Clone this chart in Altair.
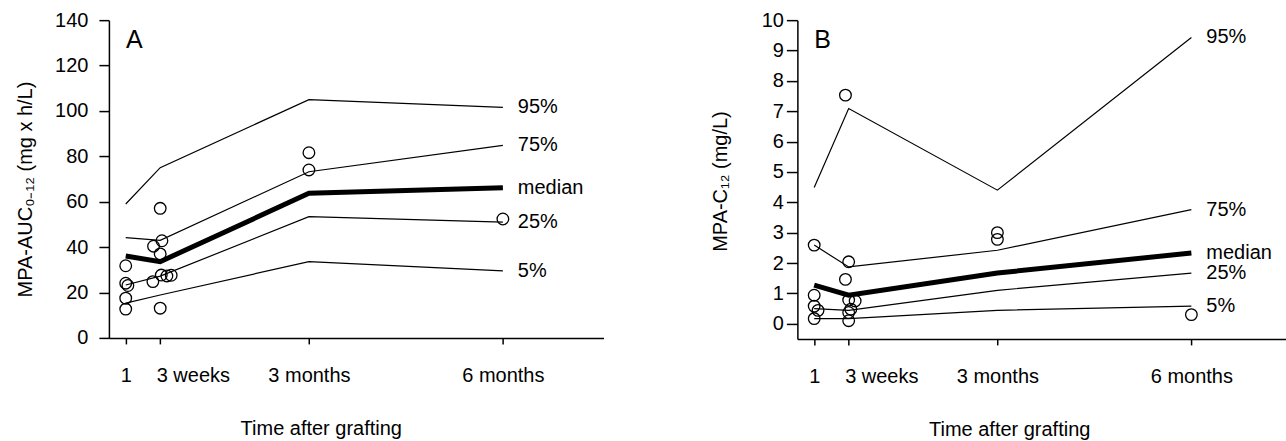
import altair as alt
import pandas as pd

# ---------------- data ----------------
time_days = [5, 21, 90, 180]
time_labels = ["1", "3 weeks", "3 months", "6 months"]
series_names = ["95%", "75%", "median", "25%", "5%"]

# Panel A: MPA-AUC0-12 percentile lines
a_p95 = [59.0, 75.0, 105.0, 101.6]
a_p75 = [44.2, 43.0, 73.2, 84.8]
a_med = [36.1, 33.6, 63.7, 66.2]
a_p25 = [23.3, 27.2, 53.4, 51.0]
a_p5 = [15.3, 18.9, 33.6, 29.5]
# Panel A observed points
a_pt_day = [5, 5, 6, 5, 5, 21, 21.8, 17.9, 21, 17.6, 21.5, 24.1, 26.1, 21, 90, 90, 180]
a_pt_val = [31.8, 24.1, 23.1, 17.5, 12.7, 57.1, 42.8, 40.4, 37.0, 24.8, 27.7, 27.3, 27.6, 13.1, 81.6, 74.0, 52.4]

# Panel B: MPA-C12 percentile lines
b_p95 = [4.49, 7.09, 4.40, 9.43]
b_p75 = [2.59, 1.87, 2.42, 3.76]
b_med = [1.27, 0.94, 1.67, 2.33]
b_p25 = [0.50, 0.44, 1.10, 1.67]
b_p5 = [0.17, 0.17, 0.44, 0.58]
# Panel B observed points
b_pt_day = [5, 5, 5, 6.8, 5, 19.5, 21, 19.5, 21, 24, 22, 21, 21, 90, 90, 180]
b_pt_val = [2.59, 0.94, 0.58, 0.44, 0.17, 7.53, 2.04, 1.46, 0.78, 0.75, 0.48, 0.37, 0.10, 3.00, 2.78, 0.30]

a_y_ticks = [0, 20, 40, 60, 80, 100, 120, 140]
b_y_ticks = [0, 1, 2, 3, 4, 5, 6, 7, 8, 9, 10]

FONT = "Liberation Sans"

label_expr = ""
for d, l in zip(time_days, time_labels):
    label_expr += f"datum.value == {d} ? '{l}' : "
label_expr += "''"


def lines_df(series_vals):
    rows = []
    for name, vals in zip(series_names, series_vals):
        for d, v in zip(time_days, vals):
            rows.append({"series": name, "day": d, "value": v})
    return pd.DataFrame(rows)


def labels_df(series_vals):
    return pd.DataFrame({
        "series": series_names,
        "day": [time_days[-1]] * len(series_names),
        "value": [vals[-1] for vals in series_vals],
    })


def panel(series_vals, pt_day, pt_val, y_domain, y_ticks, y_title, letter,
          width, height, x_domain, y_tick_size, y_label_pad, y_title_x, y_title_y):
    ldf = lines_df(series_vals)
    lab = labels_df(series_vals)
    pts = pd.DataFrame({"day": pt_day, "value": pt_val})

    x_enc = alt.X(
        "day:Q",
        scale=alt.Scale(domain=x_domain, nice=False, zero=False),
        axis=alt.Axis(
            values=time_days, labelExpr=label_expr, title="Time after grafting",
            tickSize=6, labelPadding=38, labelBaseline="alphabetic",
            labelAlign={"condition": {"test": f"datum.value == {time_days[1]}", "value": "left"}, "value": "center"},
            labelOffset={"condition": {"test": f"datum.value == {time_days[1]}", "value": -4}, "value": 0},
            titleX=212, titleY=97, titleAlign="center", titleBaseline="alphabetic",
            grid=False, labelFlush=False, labelOverlap=False,
        ),
    )
    y_enc = alt.Y(
        "value:Q",
        scale=alt.Scale(domain=y_domain, nice=False, zero=False),
        axis=alt.Axis(
            values=y_ticks, title=y_title, tickSize=y_tick_size, labelPadding=y_label_pad,
            titleX=y_title_x, titleY=y_title_y, titleAngle=-90, titleAlign="center",
            titleBaseline="middle", grid=False, labelFlush=False, labelOverlap=False,
        ),
    )

    base = alt.Chart(ldf)
    thin = base.transform_filter(alt.datum.series != "median").mark_line(
        color="black", strokeWidth=1.2
    ).encode(x=x_enc, y=y_enc, detail="series:N")
    thick = base.transform_filter(alt.datum.series == "median").mark_line(
        color="black", strokeWidth=5
    ).encode(x=x_enc, y=y_enc)
    points = alt.Chart(pts).mark_point(
        shape="circle", filled=False, size=135, strokeWidth=1.3, color="black", opacity=1
    ).encode(x=x_enc, y=y_enc)
    texts = alt.Chart(lab).mark_text(
        align="left", baseline="middle", dx=15, fontSize=20, font=FONT, color="black"
    ).encode(x=x_enc, y=y_enc, text="series:N")
    letter_mark = alt.Chart(pd.DataFrame({"panel": [letter]})).mark_text(
        align="left", baseline="alphabetic", fontSize=25, font=FONT, color="black"
    ).encode(x=alt.value(17), y=alt.value(28), text="panel:N")

    return alt.layer(thin, thick, points, texts, letter_mark).properties(width=width, height=height)


pa = panel([a_p95, a_p75, a_med, a_p25, a_p5], a_pt_day, a_pt_val, [0, 140], a_y_ticks,
           "MPA-AUC₀₋₁₂ (mg x h/L)", "A", 495, 318, [-2.8, 226.7], 10, 11, -83, 169)
pb = panel([b_p95, b_p75, b_med, b_p25, b_p5], b_pt_day, b_pt_val, [-0.5, 10], b_y_ticks,
           "MPA-C₁₂ (mg/L)", "B", 489, 319, [-2.8, 223.9], 11, 3, -77, 161)

chart = alt.hconcat(pa, pb, spacing=194, bounds="flush").properties(
    padding={"left": 16, "top": 10, "right": 0, "bottom": 0},
    background="white",
).configure_view(stroke=None).configure_axis(
    labelFont=FONT, titleFont=FONT, labelFontSize=20, titleFontSize=20,
    labelColor="black", titleColor="black", titleFontWeight="normal",
    domainColor="black", tickColor="black", domainWidth=1.5, tickWidth=1.5,
)

chart.save("out.html", embed_options={"renderer": "svg", "actions": False})
